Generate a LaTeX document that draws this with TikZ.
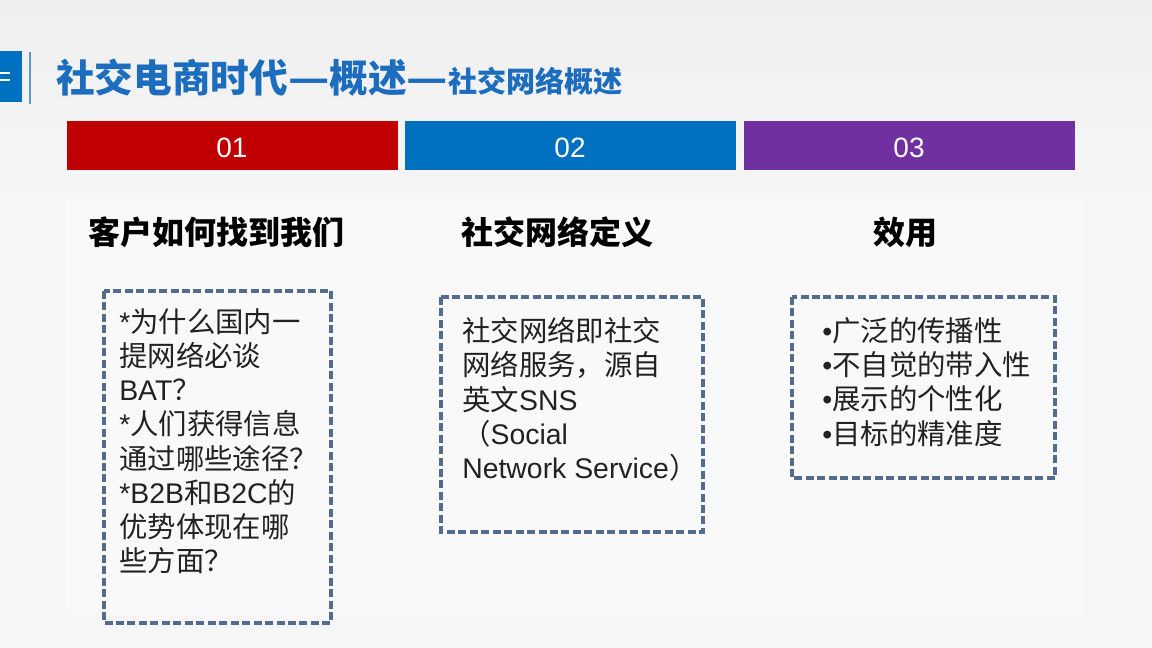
\documentclass[tikz,border=0pt]{standalone}
\usepackage{fontspec}
\usepackage{graphicx}
\setmainfont{Liberation Sans}
\newfontfamily\cjk{Noto Sans CJK SC}
\newfontfamily\lat{Liberation Sans}
\definecolor{titleblue}{HTML}{1C6DBE}
\definecolor{barred}{HTML}{C00000}
\definecolor{barblue}{HTML}{0070C0}
\definecolor{barpurple}{HTML}{7030A0}
\definecolor{dashc}{HTML}{536C8E}
\definecolor{txt}{HTML}{222222}
\definecolor{bgtop}{HTML}{EFEFEF}
\definecolor{bgmid}{HTML}{F6F6F6}
\definecolor{panel}{HTML}{F9F9F9}
\begin{document}
\begin{tikzpicture}[x=0.75pt,y=-0.75pt,
  barlabel/.style={text=white,font=\lat\fontsize{21}{24}\selectfont,inner sep=0},
  heading/.style={text=black,font=\cjk\bfseries\fontsize{24}{28}\selectfont,inner sep=0},
  dbox/.style={draw=dashc,line width=2.3pt,dash pattern=on 6pt off 2.6pt},
  boxtext/.style={text=txt,font=\cjk\fontsize{21.3}{25.7}\selectfont,align=left,inner sep=0,anchor=north west}]
\useasboundingbox (0,0) rectangle (1152,648);
\shade[top color=bgtop,bottom color=bgmid] (0,0) rectangle (1152,200);
\fill[bgmid] (0,200) rectangle (1152,648);
\fill[panel] (65,200) rectangle (1085,615);
% left marker
\fill[barblue] (0,51) rectangle (22,102);
\fill[white] (0,72) rectangle (10,74.5);
\fill[white] (0,79) rectangle (10,81.5);
\draw[color=titleblue!70,line width=1.5pt] (30,52) -- (30,104);
% title
\node[anchor=west,inner sep=0,text=titleblue,font=\cjk\bfseries\fontsize{29}{33}\selectfont] (title) at (56,78)
  {社交电商时代\scalebox{1.17}[1]{—}概述\scalebox{1.17}[1]{—}{\fontsize{21.8}{26}\selectfont 社交网络概述}};
% bars
\fill[barred] (67,121) rectangle (398,170);
\fill[barblue] (405,121) rectangle (736,170);
\fill[barpurple] (744,121) rectangle (1075,170);
\node[barlabel] (b1) at (232,148) {01};
\node[barlabel] (b2) at (570,148) {02};
\node[barlabel] (b3) at (909,148) {03};
% headings
\node[heading] (h1) at (216,232) {客户如何找到我们};
\node[heading] (h2) at (557,232) {社交网络定义};
\node[heading] (h3) at (905,232) {效用};
% dashed boxes
\draw[dbox] (104,291) rectangle (331,623);
\draw[dbox] (441,297) rectangle (703,532);
\draw[dbox] (792,297) rectangle (1055,478);
% box texts
\node[boxtext] (t1) at (119,308) {{\lat *}为什么国内一\\提网络必谈\\{\lat BAT}？\\{\lat *}人们获得信息\\通过哪些途径？\\{\lat *B2B}和{\lat B2C}的\\优势体现在哪\\些方面？};
\node[boxtext] (t2) at (462,317) {社交网络即社交\\网络服务，源自\\英文{\lat SNS}\\（{\lat Social}\\{\lat Network Service}）};
\node[boxtext] (t3) at (822,317) {{\lat •}广泛的传播性\\{\lat •}不自觉的带入性\\{\lat •}展示的个性化\\{\lat •}目标的精准度};
\end{tikzpicture}
\end{document}
